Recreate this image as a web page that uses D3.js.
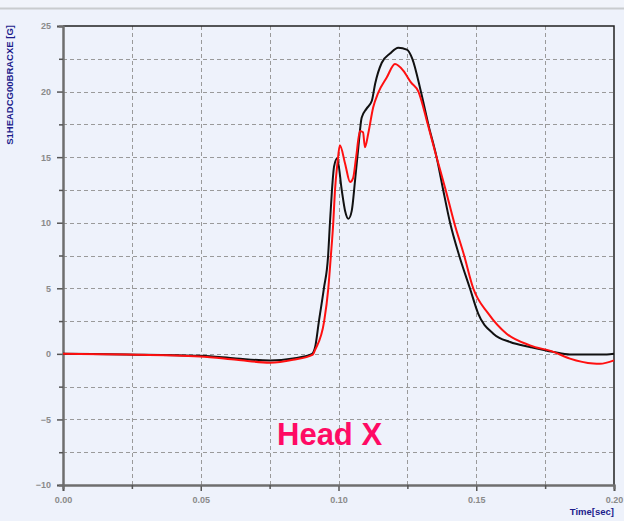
<!DOCTYPE html>
<html>
<head>
<meta charset="utf-8">
<script src="https://cdn.jsdelivr.net/npm/d3@7"></script>
<style>
  body { margin: 0; background: #eef2fb; }
  svg { display: block; }
  .tick text { font-family: "Liberation Sans", Arial, sans-serif; font-weight: bold; font-size: 9px; fill: #8a8a8a; }
  .grid line { stroke: #9a9a9a; stroke-dasharray: 4,3; }
  .aLabel { font-family: "Liberation Sans", Arial, sans-serif; font-weight: bold; font-size: 9.5px; fill: #1c1c8c; }
</style>
</head>
<body>
<div id="chart"></div>
<script>
var width = 624;
var height = 521;

var plotLeft = 63;
var plotRight = 614;
var plotTop = 26;
var plotBottom = 485;

// time [sec] and acceleration [G]
var blackTime = [0, 0.0229, 0.0501, 0.0628, 0.0751, 0.0835, 0.0904, 0.0915, 0.0929, 0.0947,
    0.0962, 0.0969, 0.0976, 0.0984, 0.0995, 0.1012, 0.1024, 0.1036, 0.1048, 0.1060,
    0.1072, 0.1084, 0.1102, 0.1121, 0.1133, 0.1157, 0.1187, 0.1217, 0.1248, 0.1268,
    0.1299, 0.1326, 0.1356, 0.1380, 0.1405, 0.1438, 0.1477, 0.1507, 0.1562, 0.1623,
    0.1695, 0.1779, 0.1840, 0.1974, 0.2000];
var blackG = [0, -0.05, -0.15, -0.35, -0.5, -0.35, 0.0, 0.5, 2.5, 5.0,
    7.4, 10.0, 12.4, 14.3, 14.9, 12.45, 10.9, 10.3, 10.9, 13.2,
    15.75, 18.0, 18.7, 19.3, 20.6, 22.2, 22.9, 23.35, 23.2, 22.5,
    20.0, 17.5, 15.0, 12.5, 10.0, 7.5, 5.0, 3.07, 1.54, 0.9,
    0.53, 0.15, -0.05, -0.05, 0.0];

var redTime = [0, 0.0231, 0.0497, 0.0630, 0.0751, 0.0835, 0.0907, 0.0915, 0.0948, 0.0963,
    0.0972, 0.0981, 0.0987, 0.0996, 0.1005, 0.1024, 0.1042, 0.1053, 0.1064, 0.1078,
    0.1089, 0.1096, 0.1108, 0.1126, 0.1144, 0.1175, 0.1205, 0.1235, 0.1263, 0.1290,
    0.1324, 0.1356, 0.1389, 0.1420, 0.1456, 0.1489, 0.1544, 0.1610, 0.1695, 0.1780,
    0.1840, 0.1925, 0.1949, 0.2000];
var redG = [0, -0.05, -0.2, -0.45, -0.67, -0.45, -0.05, 0.3, 2.5, 5.0,
    7.4, 10.0, 12.4, 14.5, 15.9, 14.5, 13.1, 13.4, 15.0, 17.0,
    16.9, 15.75, 16.8, 18.8, 19.9, 21.07, 22.1, 21.6, 20.7, 20.0,
    17.5, 15.0, 12.5, 10.0, 7.5, 5.0, 3.07, 1.54, 0.65, 0.15,
    -0.36, -0.74, -0.76, -0.5];

var xTicks = [0, 0.05, 0.10, 0.15, 0.20];
var xMinorTicks = [0.025, 0.075, 0.125, 0.175];
var yTicks = [-10, -5, 0, 5, 10, 15, 20, 25];
var yMinorTicks = [-7.5, -2.5, 2.5, 7.5, 12.5, 17.5, 22.5];

var svg = d3.select("#chart").append("svg")
    .attr("width", width)
    .attr("height", height);

// top band
svg.append("rect").attr("x", 0).attr("y", 0).attr("width", width).attr("height", 8).attr("fill", "#f1f4fb");
svg.append("line").attr("x1", 0).attr("x2", width).attr("y1", 8.5).attr("y2", 8.5)
    .attr("stroke", "#c9cccf").attr("stroke-width", 2);

var xScale = d3.scaleLinear().domain([0, 0.2]).range([plotLeft, plotRight]);
var yScale = d3.scaleLinear().domain([-10, 25]).range([plotBottom, plotTop]);

// grid
svg.append("g").attr("class", "grid")
    .selectAll("line").data(xTicks.concat(xMinorTicks).filter(function(d) { return d > 0 && d < 0.2; }))
    .enter().append("line")
    .attr("x1", function(d) { return Math.round(xScale(d)) + 0.5; })
    .attr("x2", function(d) { return Math.round(xScale(d)) + 0.5; })
    .attr("y1", plotTop).attr("y2", plotBottom);

svg.append("g").attr("class", "grid")
    .selectAll("line").data(yTicks.concat(yMinorTicks).filter(function(d) { return d > -10 && d < 25; }))
    .enter().append("line")
    .attr("x1", plotLeft).attr("x2", plotRight)
    .attr("y1", function(d) { return Math.round(yScale(d)) + 0.5; })
    .attr("y2", function(d) { return Math.round(yScale(d)) + 0.5; });

// top and right frame
svg.append("path")
    .attr("d", "M" + plotLeft + "," + plotTop + "H" + plotRight + "V" + plotBottom)
    .attr("fill", "none").attr("stroke", "#222").attr("stroke-width", 1.5);

// axes
var xAxis = d3.axisBottom(xScale).tickValues(xTicks).tickFormat(d3.format(".2f")).tickSize(6).tickPadding(6);
var xMinor = d3.axisBottom(xScale).tickValues(xMinorTicks).tickFormat("").tickSize(4);
var yAxis = d3.axisLeft(yScale).tickValues(yTicks).tickFormat(d3.format("d")).tickSize(6).tickPadding(6);
var yMinor = d3.axisLeft(yScale).tickValues(yMinorTicks).tickFormat("").tickSize(4);

[xAxis, xMinor].forEach(function(a) {
    svg.append("g").attr("class", "xAxis")
        .attr("transform", "translate(0," + plotBottom + ")")
        .call(a);
});
[yAxis, yMinor].forEach(function(a) {
    svg.append("g").attr("class", "yAxis")
        .attr("transform", "translate(" + plotLeft + ",0)")
        .call(a);
});
svg.selectAll(".xAxis .domain, .yAxis .domain").attr("stroke", "#6e6e6e").attr("stroke-width", 2);
svg.selectAll(".xAxis .tick line, .yAxis .tick line").attr("stroke", "#555").attr("stroke-width", 1.5);

// curves
var line = d3.line()
    .x(function(d) { return xScale(d[0]); })
    .y(function(d) { return yScale(d[1]); })
    .curve(d3.curveMonotoneX);

svg.append("path")
    .datum(blackTime.map(function(t, i) { return [t, blackG[i]]; }))
    .attr("d", line)
    .attr("fill", "none").attr("stroke", "#111").attr("stroke-width", 2);

svg.append("path")
    .datum(redTime.map(function(t, i) { return [t, redG[i]]; }))
    .attr("d", line)
    .attr("fill", "none").attr("stroke", "#ff1010").attr("stroke-width", 2);

// labels
svg.append("text")
    .attr("class", "aLabel")
    .attr("transform", "translate(13," + 25 + ")rotate(-90)")
    .attr("text-anchor", "end")
    .text("S1HEADCG00BRACXE [G]");

svg.append("text")
    .attr("class", "aLabel")
    .attr("x", 614).attr("y", 515)
    .attr("text-anchor", "end")
    .text("Time[sec]");

svg.append("text")
    .attr("x", 277).attr("y", 445)
    .attr("font-family", "Liberation Sans, Arial, sans-serif")
    .attr("font-weight", "bold")
    .attr("font-size", 31)
    .attr("fill", "#ff0a64")
    .text("Head X");
</script>
</body>
</html>
